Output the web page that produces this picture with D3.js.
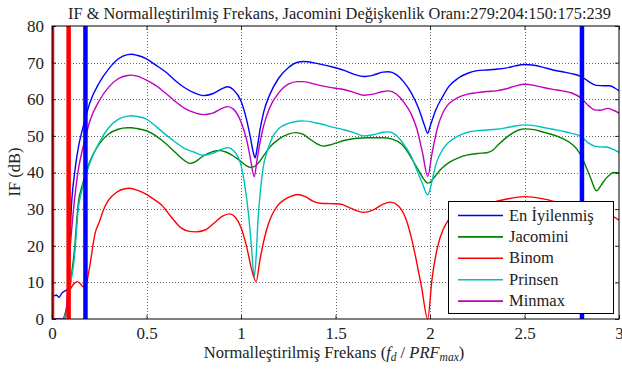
<!DOCTYPE html>
<html><head><meta charset="utf-8">
<script src="https://cdn.jsdelivr.net/npm/d3@7"></script>
<style>body{margin:0;background:#fff}svg{display:block}</style>
</head><body>
<svg id="c" width="622" height="371"></svg>
<script>
// ---- data ----
const seriesNames = ["En İyilenmiş","Jacomini","Binom","Prinsen","Minmax"];
const seriesColors = ["#0000ff","#008000","#ff0000","#00bfbf","#bf00bf"];
const xTicks = [0,0.5,1,1.5,2,2.5,3];
const yTicks = [0,10,20,30,40,50,60,70,80];
const xTickLabels = ["0","0.5","1","1.5","2","2.5","3"];
const redMarkers = [0.0, 0.088];
const blueMarkers = [0.177, 2.804];

const enIyi = [[0,6.1],[0.025,6.5],[0.037,5.9],[0.051,7],[0.069,7.7],[0.08,8],[0.09,12],[0.1,28],[0.12,40],[0.14,47],[0.16,51.5],[0.18,55.5],[0.2,59],[0.25,64.5],[0.3,68.3],[0.35,71],[0.4,72.2],[0.42,72.3],[0.45,72],[0.5,71],[0.55,69.3],[0.6,67.5],[0.65,65.2],[0.7,63.2],[0.75,61.8],[0.8,61],[0.85,61.5],[0.9,62.9],[0.93,63.4],[0.96,62.6],[1.0,59.5],[1.03,54.3],[1.05,49.5],[1.065,45.5],[1.075,44],[1.085,46.5],[1.1,51.5],[1.12,56.5],[1.15,61],[1.2,65.8],[1.25,68.6],[1.3,70.1],[1.33,70.3],[1.4,69.8],[1.5,68.6],[1.55,67.8],[1.6,66.8],[1.65,66.2],[1.7,66.6],[1.75,67.4],[1.78,67.5],[1.82,66.8],[1.86,64.8],[1.9,61.8],[1.94,57.5],[1.97,53],[1.988,50.7],[2.0,52.5],[2.03,57],[2.07,61],[2.1,63.5],[2.15,65.8],[2.2,67.1],[2.25,67.8],[2.3,68],[2.35,68.2],[2.4,68.5],[2.45,69.1],[2.5,69.5],[2.55,69.3],[2.6,68.7],[2.65,68],[2.7,67.5],[2.75,67],[2.8,66.2],[2.85,64.5],[2.88,63.8],[2.92,63.7],[2.95,63.7],[2.98,63],[3.0,62.3]];
const jacomini = [[0,0],[0.055,0],[0.08,4],[0.1,11],[0.117,18],[0.14,32],[0.16,36.5],[0.18,40],[0.2,43],[0.25,47.8],[0.3,50.5],[0.35,51.8],[0.4,52.2],[0.42,52.2],[0.45,52],[0.5,51.4],[0.55,50],[0.6,48],[0.65,45.6],[0.7,43.3],[0.73,42.5],[0.76,43],[0.8,44.5],[0.85,45.7],[0.885,46],[0.92,45.6],[0.96,44.5],[1.0,43],[1.03,41.8],[1.05,41.4],[1.07,41.6],[1.09,42.5],[1.12,44.6],[1.15,46.8],[1.2,49.1],[1.25,50.5],[1.29,50.9],[1.33,50.4],[1.36,49.3],[1.4,47.9],[1.435,47.2],[1.47,47.5],[1.5,48],[1.55,48.8],[1.6,49.3],[1.67,49.5],[1.75,49.5],[1.8,49.1],[1.85,47.7],[1.88,45.8],[1.91,43.2],[1.94,40.5],[1.97,38],[1.988,37.1],[2.0,37.3],[2.026,38.9],[2.06,41],[2.1,42.7],[2.15,44],[2.2,44.8],[2.25,45.2],[2.3,45.4],[2.33,46],[2.36,47.5],[2.41,49.8],[2.47,51.6],[2.5,51.9],[2.55,51.7],[2.6,51],[2.65,50.3],[2.7,49.3],[2.75,47.8],[2.78,46.2],[2.8,44.5],[2.83,41],[2.85,38.5],[2.88,35],[2.905,36.5],[2.925,38],[2.95,39.3],[2.97,40],[3.0,39.8]];
const binom = [[0.095,8],[0.104,8.8],[0.12,9.8],[0.134,10.2],[0.15,9.6],[0.166,8.8],[0.18,9],[0.19,11.6],[0.2,14.5],[0.228,23.4],[0.25,26.5],[0.28,30.7],[0.3,32.5],[0.342,34.6],[0.38,35.5],[0.41,35.7],[0.45,35.2],[0.49,34.3],[0.53,33],[0.58,31.1],[0.63,27.9],[0.685,24.8],[0.72,24],[0.76,23.8],[0.81,24.3],[0.86,26.3],[0.9,28],[0.94,28.7],[0.97,27.8],[1.0,25],[1.03,19.7],[1.057,13.4],[1.08,10.2],[1.1,16.1],[1.135,24.3],[1.16,28],[1.19,30.7],[1.23,32.6],[1.26,33.4],[1.3,34],[1.34,33.4],[1.38,32.2],[1.42,31.6],[1.47,31.5],[1.524,31.4],[1.57,30.5],[1.6,29.8],[1.647,29.1],[1.7,29.8],[1.75,31.3],[1.79,31.9],[1.83,31],[1.868,27.9],[1.9,22.5],[1.92,17.9],[1.955,8.8],[1.988,0],[2.01,10.6],[2.04,19.7],[2.07,24.5],[2.097,27],[2.15,29.5],[2.2,30.6],[2.3,31.5],[2.4,32.7],[2.5,33.4],[2.6,32.8],[2.7,31.5],[2.8,30.3],[2.9,29],[2.95,28.5],[3.0,27]];
const prinsen = [[0,0],[0.06,0],[0.08,3],[0.1,10],[0.117,16],[0.14,30.5],[0.16,35.5],[0.18,39.3],[0.2,42.5],[0.25,48.2],[0.3,52.2],[0.35,54.5],[0.4,55.4],[0.42,55.5],[0.45,55.3],[0.5,54.6],[0.55,52.6],[0.6,50.4],[0.65,48.4],[0.7,46.6],[0.75,45.6],[0.8,44.7],[0.85,45.2],[0.9,46.4],[0.93,46.8],[0.96,46],[1.0,42],[1.02,36.5],[1.04,28.5],[1.055,20],[1.07,11.5],[1.08,17],[1.09,27],[1.1,33.5],[1.118,41.6],[1.14,46],[1.17,50],[1.2,52],[1.25,53.4],[1.3,54],[1.33,54.1],[1.4,53.5],[1.5,52.2],[1.55,51.6],[1.6,50.8],[1.65,50],[1.7,50.3],[1.75,51],[1.78,51.1],[1.82,50.2],[1.86,47.8],[1.9,44.5],[1.93,40.7],[1.96,37],[1.988,33.9],[2.01,37.5],[2.03,42],[2.07,46.5],[2.1,48.3],[2.15,50],[2.2,51],[2.25,51.4],[2.3,51.6],[2.35,51.8],[2.4,52.2],[2.45,52.7],[2.5,53],[2.55,52.8],[2.6,52.3],[2.65,51.8],[2.7,51.3],[2.75,50.7],[2.8,49.8],[2.84,48],[2.87,47.2],[2.9,47],[2.94,46.9],[2.97,46.3],[3.0,45.5]];
const minmax = [[0,0],[0.07,0],[0.09,15],[0.1,22],[0.12,33],[0.14,41],[0.16,46],[0.18,50.2],[0.2,54],[0.25,59.6],[0.3,63.3],[0.35,65.6],[0.4,66.5],[0.42,66.6],[0.45,66.3],[0.5,65.2],[0.55,63.7],[0.6,61.7],[0.65,59.5],[0.7,57.6],[0.75,56.4],[0.8,55.8],[0.85,56.2],[0.9,57.5],[0.93,58],[0.96,57.3],[1.0,53.8],[1.03,48.9],[1.05,43.8],[1.07,38.9],[1.085,43.5],[1.1,48],[1.12,52.8],[1.15,57.5],[1.2,61.8],[1.25,64.1],[1.3,64.8],[1.33,64.8],[1.4,64],[1.5,63],[1.55,62.6],[1.6,61.8],[1.65,61.1],[1.7,61.4],[1.75,62.1],[1.78,62.3],[1.82,61.5],[1.86,59.3],[1.9,56],[1.93,52],[1.96,45.5],[1.988,38.9],[2.01,45],[2.04,52.3],[2.07,56.5],[2.1,58.8],[2.15,60.5],[2.2,61.4],[2.25,61.8],[2.3,62.1],[2.35,62.3],[2.4,62.8],[2.45,63.6],[2.5,64.1],[2.55,63.8],[2.6,63.2],[2.65,62.7],[2.7,62.3],[2.75,61.7],[2.8,60.3],[2.84,58.2],[2.87,57.1],[2.9,57],[2.94,57.5],[2.97,57],[3.0,56.2]];
const seriesData = [enIyi, jacomini, binom, prinsen, minmax];

const titleText = "IF & Normalleştirilmiş Frekans, Jacomini Değişkenlik Oranı:279:204:150:175:239";
const yLabelText = "IF (dB)";

// ---- layout ----
const FONT = '"Liberation Serif", serif';
const L = 52, T = 26, R = 619, B = 319;
const svg = d3.select("#c");
const x = d3.scaleLinear().domain([0,3]).range([L,R]);
const y = d3.scaleLinear().domain([0,80]).range([B,T]);

function serif(sel){ return sel.style("font-family",FONT); }

svg.append("defs").append("clipPath").attr("id","clip")
  .append("rect").attr("x",L).attr("y",T).attr("width",R-L).attr("height",B-T);

svg.append("rect").attr("x",L).attr("y",T).attr("width",R-L).attr("height",B-T).attr("fill","#fff");

// grid
const grid = svg.append("g").attr("stroke","#444").attr("stroke-width",0.8).attr("stroke-dasharray","1,2");
grid.selectAll("line.gx").data(xTicks.slice(1,-1)).join("line")
  .attr("x1",d=>Math.round(x(d))+0.5).attr("x2",d=>Math.round(x(d))+0.5).attr("y1",T).attr("y2",B);
grid.selectAll("line.gy").data(yTicks.slice(1,-1)).join("line")
  .attr("y1",d=>Math.round(y(d))+0.5).attr("y2",d=>Math.round(y(d))+0.5).attr("x1",L).attr("x2",R);

// axes (ticks inward, both sides)
const axB = d3.axisBottom(x).tickValues(xTicks).tickFormat((d,i)=>xTickLabels[i]).tickSizeInner(-4).tickSizeOuter(0).tickPadding(8);
const axT = d3.axisTop(x).tickValues(xTicks).tickFormat("").tickSizeInner(-4).tickSizeOuter(0);
const axLf = d3.axisLeft(y).tickValues(yTicks).tickSizeInner(-4).tickSizeOuter(0).tickPadding(8);
const axRt = d3.axisRight(y).tickValues(yTicks).tickFormat("").tickSizeInner(-4).tickSizeOuter(0);

function styleAxis(g){
  g.attr("font-size",17).call(serif);
  g.select(".domain").remove();
  g.selectAll("line").attr("stroke","#000").attr("stroke-width",0.8);
  g.selectAll("text").call(serif).attr("font-size",17).attr("fill","#222");
}

// curves
const line = d3.line().x(d=>x(d[0])).y(d=>y(d[1])).curve(d3.curveMonotoneX);
const plot = svg.append("g").attr("clip-path","url(#clip)");
[0,1,3,4,2].forEach(i=>{
  plot.append("path").datum(seriesData[i]).attr("d",line)
    .attr("fill","none").attr("stroke",seriesColors[i]).attr("stroke-width",1.4).attr("stroke-linejoin","round");
});
// vertical markers
plot.selectAll("line.rm").data(redMarkers).join("line")
  .attr("x1",d=>x(d)).attr("x2",d=>x(d)).attr("y1",T).attr("y2",B)
  .attr("stroke","#ff0000").attr("stroke-width",4.5);
plot.selectAll("line.bm").data(blueMarkers).join("line")
  .attr("x1",d=>x(d)).attr("x2",d=>x(d)).attr("y1",T).attr("y2",B)
  .attr("stroke","#0000ff").attr("stroke-width",4.5);

svg.append("g").attr("transform",`translate(0,${B})`).call(axB).call(styleAxis);
svg.append("g").attr("transform",`translate(0,${T})`).call(axT).call(styleAxis);
svg.append("g").attr("transform",`translate(${L},0)`).call(axLf).call(styleAxis);
svg.append("g").attr("transform",`translate(${R},0)`).call(axRt).call(styleAxis);

svg.append("rect").attr("x",L).attr("y",T).attr("width",R-L).attr("height",B-T)
  .attr("fill","none").attr("stroke","#000").attr("stroke-width",1);

// legend
const lg = svg.append("g");
const lgX = 448, lgY = 201, lgW = 165, lgH = 112;
lg.append("rect").attr("x",lgX+0.5).attr("y",lgY+0.5).attr("width",lgW).attr("height",lgH)
  .attr("fill","#fff").attr("stroke","#000").attr("stroke-width",1);
seriesNames.forEach((n,i)=>{
  const yy = lgY + 14.5 + i*21.4;
  lg.append("line").attr("x1",lgX+10).attr("x2",lgX+55).attr("y1",yy).attr("y2",yy)
    .attr("stroke",seriesColors[i]).attr("stroke-width",1.6);
  lg.append("text").attr("x",lgX+61).attr("y",yy+5).text(n)
    .call(serif).attr("font-size",16.5).attr("fill","#222");
});

// title & labels
function fit(sel, w){
  const cur = sel.node().getComputedTextLength();
  const fs = parseFloat(sel.attr("font-size"));
  sel.attr("font-size", (fs*w/cur).toFixed(2));
}
const title = svg.append("text").attr("x",339.5).attr("y",18.5).attr("text-anchor","middle")
  .call(serif).attr("font-size",15).attr("fill","#222").text(titleText);
fit(title, 543);

const xl = svg.append("text").attr("x",334).attr("y",358).attr("text-anchor","middle")
  .call(serif).attr("font-size",16.5).attr("fill","#222");
xl.append("tspan").text("Normalleştirilmiş Frekans (");
xl.append("tspan").attr("font-style","italic").text("f");
xl.append("tspan").attr("font-style","italic").attr("font-size",11.5).attr("dy",3).text("d");
xl.append("tspan").attr("dy",-3).text(" / ");
xl.append("tspan").attr("font-style","italic").text("PRF");
xl.append("tspan").attr("font-style","italic").attr("font-size",11.5).attr("dy",3).text("max");
xl.append("tspan").attr("dy",-3).text(")");

svg.append("text").attr("transform","translate(20,172) rotate(-90)").attr("text-anchor","middle")
  .call(serif).attr("font-size",16.5).attr("fill","#222").text(yLabelText);
</script>
</body></html>
